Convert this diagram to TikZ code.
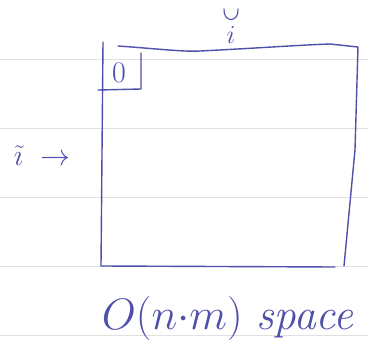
\RequirePackage{fix-cm}
\documentclass[tikz,border=0pt]{standalone}
\usepackage{amsmath}
\begin{document}
\begin{tikzpicture}[x=1pt,y=-1pt,
  ink/.style={draw=inkc, line width=1.4pt, line cap=round, line join=round},
  thinink/.style={draw=inkc, line width=1.1pt, line cap=round},
  rule/.style={draw=black!12, line width=0.6pt},
  hand/.style={text=inkc, inner sep=0pt}]
\definecolor{inkc}{RGB}{78,80,170}
\useasboundingbox (0,0) rectangle (368,349);
\fill[white] (0,0) rectangle (368,349);
% ruled paper
\foreach \y in {59,128,197,266,335} \draw[rule] (0,\y) -- (368,\y);
% matrix rectangle
\draw[ink] (118,46) .. controls (160,49) and (185,52) .. (200,51)
  .. controls (260,48) and (300,45) .. (330,44) -- (358,47) -- (355,150) -- (344,266);
\draw[ink] (103,42) -- (101,266) -- (335,267);
% small cell
\draw[ink] (141,53) -- (141,89) -- (98,90);
\node[hand, font=\fontsize{30}{32}\selectfont] (zero) at (119,73) {$0$};
% labels
\node[hand, font=\fontsize{26}{28}\selectfont] (top) at (231,35) {$i$};
\coordinate (cupL) at (224,9);
\coordinate (cupR) at (238,9);
\draw[thinink] (cupL) .. controls (223,23) and (239,23) .. (cupR);
\node[hand, font=\fontsize{30}{32}\selectfont] (left) at (42,156) {$\tilde{\imath}\;\rightarrow$};
\node[hand, font=\fontsize{44}{46}\selectfont] (cap) at (229,318) {$O(n{\cdot}m)$ $\mathit{space}$};
\end{tikzpicture}
\end{document}
